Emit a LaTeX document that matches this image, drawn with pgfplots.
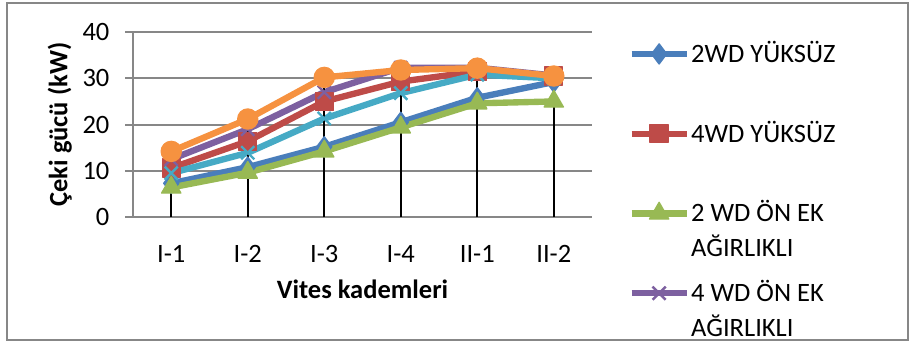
\documentclass[border=0pt]{standalone}
\usepackage{pgfplots}
\pgfplotsset{compat=1.18}
\usepackage{fontspec}
\setmainfont{Carlito}
\definecolor{sBlue}{HTML}{4A7EBB}
\definecolor{sRed}{HTML}{BE4B48}
\definecolor{sGreen}{HTML}{98B954}
\definecolor{sPurple}{HTML}{7D60A0}
\definecolor{sCyan}{HTML}{46AAC5}
\definecolor{sOrange}{HTML}{F69240}
\definecolor{gridgray}{HTML}{878787}
\newcommand\lgone[1]{\raisebox{0pt}[9pt][2pt]{#1}}
\newcommand\lgtwo[2]{\raisebox{0pt}[9pt][2pt]{\renewcommand\arraystretch{1.1}\begin{tabular}[t]{@{}l@{}}#1\\#2\end{tabular}}}
\begin{document}
\begin{tikzpicture}
\useasboundingbox (0,0) rectangle (343.4pt,129.1pt);
\draw[gridgray, line width=0.6pt] (2.64pt,0.75pt) rectangle (342.6pt,127.9pt);
\begin{axis}[
  at={(50.19pt,47.18pt)}, anchor=south west,
  scale only axis, width=173.23pt, height=69.82pt,
  xmin=-0.5, xmax=5.5, ymin=0, ymax=40,
  xtick={0,1,2,3,4,5}, xticklabels={I-1,I-2,I-3,I-4,II-1,II-2},
  ytick={0,10,20,30,40},
  axis lines=left,
  axis line style={-, gridgray, line width=0.75pt},
  ymajorgrids, grid style={gridgray, line width=0.75pt},
  tick align=outside, major tick length=3pt,
  xtick style={draw=none},
  ytick style={gridgray, line width=0.75pt},
  /pgf/number format/assume math mode=true,
  yticklabel style={anchor=east, inner sep=0pt, xshift=-5.7pt},
  xticklabel style={anchor=center, inner sep=0pt, yshift=-11pt},
  xlabel={\textbf{Vites kademleri}},
  ylabel={\textbf{Çeki gücü (kW)}},
  every axis x label/.style={at={(axis description cs:0.5,0)}, anchor=center, yshift=-27.4pt},
  every axis y label/.style={at={(axis description cs:0,0.5)}, anchor=center, rotate=90, yshift=27.6pt},
  clip=false,
  legend style={at={(1.078,0.975)}, anchor=north west, draw=none, fill=none, inner sep=0pt,
    row sep=18.6pt, column sep=0pt, nodes={inner sep=0.5pt, anchor=base west}},
  legend cell align=left,
  legend image code/.code={\draw[#1, mark repeat=2, mark phase=2] plot coordinates {(0pt,3.2pt) (10.4pt,3.2pt) (20.8pt,3.2pt)};},
  every axis plot/.append style={line width=2.4pt, line join=round},
]
\addplot[sBlue, mark=diamond*, mark size=3.8pt, mark options={solid, fill=sBlue, line width=0.5pt}]
  coordinates {(0,7.3) (1,10.8) (2,15.2) (3,20.5) (4,25.8) (5,29.2)};
\addlegendentry{\lgone{2WD YÜKSÜZ}}
\addplot[sRed, mark=square*, mark size=3.4pt, mark options={solid, fill=sRed, line width=0.5pt}]
  coordinates {(0,10.6) (1,16.4) (2,25.0) (3,29.3) (4,31.5) (5,30.5)};
\addlegendentry{\lgone{4WD YÜKSÜZ}}
\addplot[sGreen, mark=triangle*, mark size=4.2pt, mark options={solid, fill=sGreen, line width=0.5pt}]
  coordinates {(0,6.4) (1,9.6) (2,14.2) (3,19.4) (4,24.6) (5,25.0)};
\addlegendentry{\lgtwo{2 WD ÖN EK}{AĞIRLIKLI}}
\addplot[sPurple, mark=x, mark size=3.5pt, mark options={solid, line width=0.9pt}]
  coordinates {(0,12.5) (1,19.0) (2,27.0) (3,32.3) (4,32.3) (5,30.6)};
\addlegendentry{\lgtwo{4 WD ÖN EK}{AĞIRLIKLI}}
\addplot[sCyan, mark=x, mark size=3.5pt, mark options={solid, line width=0.9pt}]
  coordinates {(0,9.5) (1,13.9) (2,21.3) (3,26.8) (4,30.8) (5,30.0)};
\addplot[sOrange, mark=*, mark size=3.8pt, mark options={solid, fill=sOrange, line width=0.5pt}]
  coordinates {(0,14.2) (1,21.2) (2,30.2) (3,31.8) (4,32.2) (5,30.5)};
\addplot[black, line width=0.75pt, ycomb, no marks, forget plot]
  coordinates {(0,14.2) (1,21.2) (2,30.2) (3,31.8) (4,32.2) (5,30.5)};
\end{axis}
\end{tikzpicture}
\end{document}
